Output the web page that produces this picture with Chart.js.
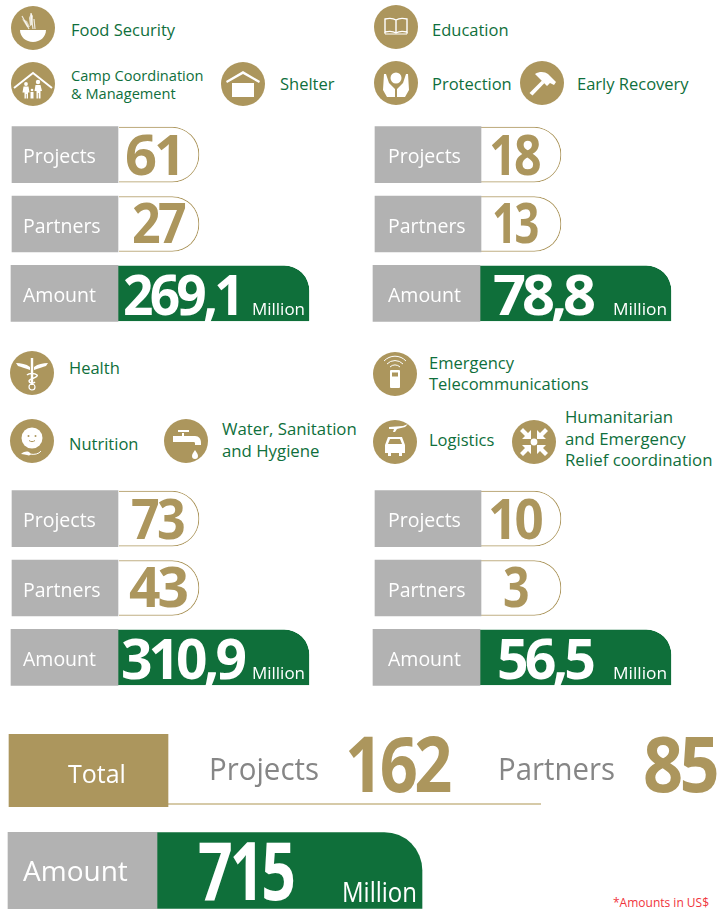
<!DOCTYPE html>
<html><head><meta charset="utf-8">
<script src="https://cdn.jsdelivr.net/npm/chart.js@4"></script>
<style>
html,body{margin:0;padding:0;background:#fff}
#page{position:relative;width:726px;height:909px;overflow:hidden;font-family:"Open Sans",sans-serif}
canvas{position:absolute;display:block}
.lab{position:absolute;color:#0f6f3c;transform:translateY(-50%);white-space:nowrap}
.ico{position:absolute;width:44px;height:44px}
#note{position:absolute;left:613px;top:894px;font-size:12px;color:#f0343c;white-space:nowrap}
</style></head><body><div id="page"></div>
<script>
// ---- data ----
const rowLabels = ["Projects","Partners","Amount"];
const projects = [61,18,73,10];
const partners = [27,13,43,3];
const amounts  = [269.1,78.8,310.9,56.5];
const totalProjects = 162;
const totalPartners = 85;
const totalAmount = 715;
const unit = "Million";
const sectorNames = [
 ["Food Security"],["Camp Coordination","& Management"],["Shelter"],
 ["Education"],["Protection"],["Early Recovery"],
 ["Health"],["Nutrition"],["Water, Sanitation","and Hygiene"],
 ["Emergency","Telecommunications"],["Logistics"],["Humanitarian","and Emergency","Relief coordination"]
];

// ---- styles & layout ----
const GREY="#b2b2b2",GOLD="#ac965d",GREEN="#0f6f3a",WHITE="#ffffff",TXT="#868686";
const FF='"Open Sans",sans-serif';
const sectorLayout=[ // icon cx, cy, text x, text y, size, line height
 [33,28,71,29,16.5,21],[33,84,71,84,14.6,18],[243,84,280,83,16.5,21],
 [396,27,432,29,16.5,21],[396,83,432,83,16.5,21],[542,83,577,83,16.5,21],
 [32,373,69,367,16.5,21],[32,441,69,443,16.5,21],[186,441,222,440,16.8,22],
 [395,374,429,373,16.5,21],[395,442,429,439,16.5,21],[534,442,565,438,16.8,21.5]];
const iconNames=["food","camp","shelter","book","hands","hammer","health","face","tap","radio","truck","arrows"];
const panelLayout=[
 {left:0,  top:120,pad:23,grey:[[12,118],[12,118],[11,118]],cell:[[119,199],[119,199],[118,309]],
  boxes:[[125,183],[132,184],[123,241]],unit:[252,305]},
 {left:363,top:120,pad:25,grey:[[12,118],[12,118],[10,117]],cell:[[118,198],[118,198],[117,308]],
  boxes:[[126,176],[129,174],[130,229]],unit:[250,304]},
 {left:0,  top:484,pad:23,grey:[[12,118],[12,118],[11,118]],cell:[[119,199],[119,199],[118,309]],
  boxes:[[131,183],[129,186],[121,243]],unit:[252,305]},
 {left:363,top:484,pad:25,grey:[[12,118],[12,118],[10,117]],cell:[[118,198],[118,198],[117,308]],
  boxes:[[125,178],[140,164],[134,229]],unit:[250,304]}];

const fmt=v=>String(v).replace(".",",");
const page=document.getElementById("page");

// icon glyphs (white on a gold disc), drawn in a -22..22 box
const W='fill="#fff"',S='fill="none" stroke="#fff"';
const icons={
 food:`<path ${W} d="M-13 2h26c0 7-6 12-13 12S-13 9-13 2z"/><path ${S} stroke-width="1.2" d="M-4 1L-11-12M0 1L-2-15M2 1L1-9" opacity=".8"/><path ${W} opacity=".75" d="M-2-15l2 3-1 9-2 1-1-8z"/><path ${W} opacity=".6" d="M-6-1l-5-8 5 2 3 6z"/>`,
 camp:`<path ${S} stroke-width="2" d="M-19 4L0-11 19 4"/><circle ${W} cx="-7" cy="0" r="1.9"/><path ${W} d="M-9.5 2.5h5l1 6h-1.5v6h-1.4V10h-.7v4.500H-8.500v-6H-10.500z"/><circle ${W} cx="5" cy="-2" r="2.200"/><path ${W} d="M2.500 1h5l1.500 6-1.500 0v7.500H5.700V9h-.8v5.500H3.500V7H1.500z"/><circle ${W} cx="-1" cy="6" r="1.300"/><path ${W} d="M-2.500 8h3v6.500h-3z"/>`,
 shelter:`<path ${W} d="M-11-1h22v14h-22z"/><path ${W} d="M0-13L17-3l-1 2L0-10-16-1l-1-2z"/>`,
 book:`<path ${S} stroke-width="1.4" d="M-11-8c4-1 8-1 11 1 3-2 7-2 11-1v13c-4-1-8-1-11 1-3-2-7-2-11-1zM0-7V6"/><path ${S} stroke-width="1" d="M-11 5v2h22V5"/>`,
 hands:`<circle ${W} cx="0" cy="-5" r="5.5"/><path ${W} d="M-12-9l2 0 3 9 6 6v8h-8l-4-7zM12-9l-2 0-3 9-6 6v8h8l4-7z"/>`,
 hammer:`<path ${W} d="M-7-9c5-3 10-2 13 0l8 8-2 3-4-2-3 3-4-4z"/><path ${W} d="M0-2.500l2.500 2.500-12 12.500-3-2.500z"/>`,
 health:`<path ${W} d="M-1.2-15h2.4v27h-2.4z"/><path ${W} d="M-16-10c5 0 10 1 14 4v3c-5-2-9-3-12-4zM16-10c-5 0-10 1-14 4v3c5-2 9-3 12-4z"/><path ${S} stroke-width="1.5" d="M-5 2c2-2 8-2 10 0s-8 4-8 6 4 3 6 1"/><circle ${S} stroke-width="1.2" cx="0" cy="14" r="3"/>`,
 face:`<circle ${W} cx="0" cy="-3" r="10.5"/><circle fill="#ac965d" cx="-3.5" cy="-5" r="1"/><circle fill="#ac965d" cx="3.5" cy="-5" r="1"/><path fill="none" stroke="#ac965d" d="M-3-.5c2 1.500 4 1.500 6 0"/><path ${W} d="M-11 13c4-3 7-3 9-1 2 2-1 3-3 2-2 0-3-1-6-1z"/><path ${S} d="M-2 13c4 1 9 0 11-3"/>`,
 tap:`<path ${W} d="M-13-5h22c4 0 6 3 6 7v2h-6V2c0-1-1-1-2-1h-20zM-4-8h2v3h-2zM-8-11H3v2H-8z"/><path ${W} d="M9 9c2 3 3 4 3 6a3 3 0 0 1-6 0c0-2 1-3 3-6z"/>`,
 radio:`<rect ${W} x="-5" y="-4" width="10" height="18" rx="1"/><rect fill="#ac965d" x="-3" y="-1.5" width="6" height="4"/><path ${S} stroke-width="1" d="M-5-7a7 7 0 0 1 10 0M-8-10a11 11 0 0 1 16 0M-11-13a15 15 0 0 1 22 0"/>`,
 truck:`<path ${W} d="M-6-15l14-1 5-2-3 3-8 2-2 3-2 0 1-3-5 0z"/><path ${W} d="M-7-5H7l3 8v8H7v3H4v-3H-4v3h-3v-3h-3V3z"/><path fill="#ac965d" d="M-5-3H5l2 5H-7z"/>`,
 arrows:`<circle ${W} cx="0" cy="0" r="3.4"/><path ${W} d="M-14-11l3-3 5 5 3-3v9h-9l3-3zM14-11l-3-3-5 5-3-3v9h9l-3-3zM-14 11l3 3 5-5 3 3V3h-9l3 3zM14 11l-3 3-5-5-3 3V3h9l-3 3z"/>`
};
sectorNames.forEach((lines,i)=>{
 const [cx,cy,tx,ty,fs,lh]=sectorLayout[i];
 const wrap=document.createElement("div");
 wrap.innerHTML=`<svg class="ico" style="left:${cx-22}px;top:${cy-22}px" viewBox="-22 -22 44 44"><circle cx="0" cy="0" r="22" fill="${GOLD}"/>${icons[iconNames[i]]}</svg>`;
 page.appendChild(wrap.firstChild);
 const d=document.createElement("div");
 d.className="lab";
 d.style.cssText=`left:${tx}px;top:${ty}px;font-size:${fs}px;line-height:${lh}px`;
 d.innerHTML=lines.join("<br>");
 page.appendChild(d);
});
const note=document.createElement("div");note.id="note";note.textContent="*Amounts in US$";page.appendChild(note);

// text items fitted horizontally into a box
const fitText={id:"fitText",afterDatasetsDraw(chart,_a,opts){
 const ctx=chart.ctx;
 (opts.items||[]).forEach(it=>{
  ctx.save();ctx.font=it.font;ctx.fillStyle=it.color;ctx.textBaseline="alphabetic";ctx.textAlign="left";
  if(it.tight)ctx.letterSpacing=it.tight;
  const w=ctx.measureText(it.text).width;
  const sx=(it.box[1]-it.box[0])/w;
  ctx.translate(it.box[0],it.y);ctx.scale(sx,1);ctx.fillText(it.text,0,0);ctx.restore();
 });
}};
const ruleLine={id:"ruleLine",beforeDatasetsDraw(chart,_a,opts){
 if(!opts.from)return;const c=chart.ctx;c.save();c.fillStyle=opts.color;c.fillRect(opts.from,opts.y,opts.to-opts.from,opts.h);c.restore();
}};
Chart.register(fitText,ruleLine);

function makeChart(cfg){
 const cv=document.createElement("canvas");
 cv.width=cfg.w;cv.height=cfg.h;cv.style.left=cfg.left+"px";cv.style.top=cfg.top+"px";
 cv.style.width=cfg.w+"px";cv.style.height=cfg.h+"px";
 page.appendChild(cv);
 return new Chart(cv,{type:"bar",
  data:{labels:cfg.labels,datasets:cfg.datasets},
  options:{indexAxis:"y",responsive:false,animation:false,devicePixelRatio:1,
   layout:{padding:0},
   plugins:{legend:{display:false},tooltip:{enabled:false},title:{display:false},
     fitText:{items:cfg.items},ruleLine:cfg.rule||{}},
   scales:{
    x:{type:"linear",display:false,min:0,max:cfg.w},
    y:{type:"category",position:"left",afterFit:s=>{s.width=0;s.paddingTop=0;s.paddingBottom=0;s.paddingLeft=0;s.paddingRight=0},
       grid:{display:false,drawTicks:false},border:{display:false},
       ticks:{mirror:true,z:2,padding:cfg.pad,labelOffset:cfg.labelOffset,color:WHITE,autoSkip:false,font:{family:"Open Sans",size:cfg.tickSize}}}
   }}});
}

// four sector panels
panelLayout.forEach((p,i)=>{
 const amt=fmt(amounts[i]);
 const big=`700 56px ${FF}`;
 makeChart({w:363,h:208,left:p.left,top:p.top,pad:p.pad,labelOffset:3,tickSize:19.5,labels:rowLabels,
  datasets:[
   {data:p.grey,backgroundColor:GREY,barThickness:56,grouped:false,borderWidth:0},
   {data:p.cell,grouped:false,barThickness:55,
    backgroundColor:[WHITE,WHITE,GREEN],borderColor:[GOLD,GOLD,GREEN],borderWidth:1,borderSkipped:"left",
    borderRadius:[{topRight:27,bottomRight:27},{topRight:27,bottomRight:27},{topRight:25,bottomRight:0}]}
  ],
  items:[
   {text:String(projects[i]),box:p.boxes[0],y:55,font:big,color:GOLD,tight:"-3px"},
   {text:String(partners[i]),box:p.boxes[1],y:123,font:big,color:GOLD,tight:"-3px"},
   {text:amt,box:p.boxes[2],y:195,font:big,color:WHITE,tight:"-4px"},
   {text:unit,box:p.unit,y:195,font:`400 16px ${FF}`,color:WHITE}
  ]});
});

// totals row
makeChart({w:726,h:73,left:0,top:734,pad:68,labelOffset:5,tickSize:25,labels:["Total"],
 datasets:[{data:[[9,168]],backgroundColor:GOLD,barThickness:73,borderWidth:0}],
 rule:{from:168,to:541,y:69,h:2,color:"#d6caa8"},
 items:[
  {text:"Projects",box:[209,319],y:46,font:`400 31px ${FF}`,color:TXT},
  {text:String(totalProjects),box:[345,449],y:58,font:`700 77px ${FF}`,color:GOLD,tight:"-4px"},
  {text:"Partners",box:[498,615],y:46,font:`400 31px ${FF}`,color:TXT},
  {text:String(totalPartners),box:[643,716],y:58,font:`700 77px ${FF}`,color:GOLD,tight:"-4px"}
 ]});

// total amount row
makeChart({w:726,h:77,left:0,top:832,pad:23,labelOffset:3,tickSize:28,labels:["Amount"],
 datasets:[
  {data:[[8,157]],backgroundColor:GREY,barThickness:77,grouped:false,borderWidth:0},
  {data:[[157,422]],backgroundColor:GREEN,barThickness:76,grouped:false,borderWidth:0,borderSkipped:"left",
   borderRadius:{topRight:38,bottomRight:0}}
 ],
 items:[
  {text:fmt(totalAmount),box:[198,293],y:68,font:`700 80px ${FF}`,color:WHITE,tight:"-4px"},
  {text:unit,box:[342,417],y:70,font:`400 27px ${FF}`,color:WHITE}
 ]});
</script></body></html>
